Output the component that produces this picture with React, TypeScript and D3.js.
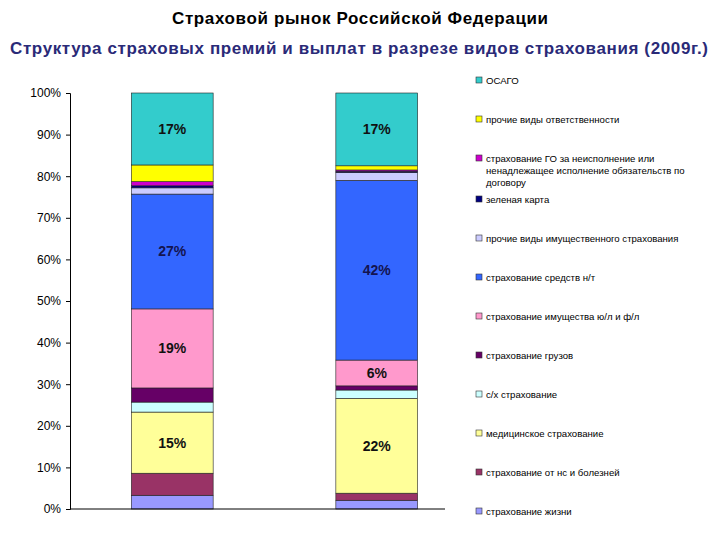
import React, { useEffect, useRef } from 'react';
import * as d3 from 'd3';

// two columns: premiums and payouts
const categories = ['премии', 'выплаты'];

// series from bottom of the stack to the top
const seriesNames = [
    'страхование жизни',
    'страхование от нс и болезней',
    'медицинское страхование',
    'с/х страхование',
    'страхование грузов',
    'страхование имущества ю/л и ф/л',
    'страхование средств н/т',
    'прочие виды имущественного страхования',
    'зеленая карта',
    'страхование ГО за неисполнение или ненадлежащее исполнение обязательств по договору',
    'прочие виды ответственности',
    'ОСАГО',
];

const seriesValues = [
    [3.3, 2.1],
    [5.3, 1.7],
    [14.7, 22.8],
    [2.4, 2.0],
    [3.4, 1.0],
    [19.0, 6.2],
    [27.6, 43.2],
    [1.5, 1.9],
    [0.5, 0.3],
    [1.0, 0.3],
    [4.0, 1.0],
    [17.3, 17.5],
];

const seriesLabels = [
    [null, null],
    [null, null],
    ['15%', '22%'],
    [null, null],
    [null, null],
    ['19%', '6%'],
    ['27%', '42%'],
    [null, null],
    [null, null],
    [null, null],
    [null, null],
    ['17%', '17%'],
];

const colors = [
    '#9999ff', '#993366', '#ffff99', '#ccffff', '#660066', '#ff99cc',
    '#3366ff', '#ccccff', '#000080', '#cc00cc', '#ffff00', '#33cccc',
];

const legendLines = [
    ['ОСАГО'],
    ['прочие виды ответственности'],
    ['страхование ГО за неисполнение или', 'ненадлежащее исполнение обязательств по', 'договору'],
    ['зеленая карта'],
    ['прочие виды имущественного страхования'],
    ['страхование средств н/т'],
    ['страхование имущества ю/л и ф/л'],
    ['страхование грузов'],
    ['с/х страхование'],
    ['медицинское страхование'],
    ['страхование от нс и болезней'],
    ['страхование жизни'],
];

const yTicks = [0, 10, 20, 30, 40, 50, 60, 70, 80, 90, 100];

const width = 720;
const height = 540;
const margin = { top: 93, bottom: 31, left: 70, right: 241 };
const font = 'Arial, "Liberation Sans", sans-serif';

const App = () => {
    const axisRef = useRef<SVGGElement>(null);

    const x = d3.scaleBand()
        .domain(categories)
        .range([margin.left, width - margin.right])
        .paddingInner(0.6)
        .paddingOuter(0.3);

    const y = d3.scaleLinear()
        .domain([0, 100])
        .range([height - margin.bottom, margin.top]);

    const stacked = categories.map((c, ci) => {
        let acc = 0;
        return seriesValues.map((vals, si) => {
            const y0 = acc;
            acc += vals[ci];
            return { c, si, y0, y1: acc, label: seriesLabels[si][ci] };
        });
    });

    useEffect(() => {
        const g = d3.select(axisRef.current);
        g.selectAll('*').remove();
        g.call(d3.axisLeft(y).tickValues(yTicks).tickFormat(d => d + '%').tickSizeOuter(0).tickSize(4));
        g.selectAll('text').attr('font-family', font).attr('font-size', 12).attr('fill', '#000').attr('dx', -2);
        g.selectAll('line, path').attr('stroke', '#000');
    }, []);

    let ly = 83;
    const legendItems = legendLines.map((lines, i) => {
        const item = { lines, y: ly, color: colors[colors.length - 1 - i] };
        ly += lines.length > 1 ? 41 : 39;
        return item;
    });

    return (
        <svg width={width} height={height} style={{ position: 'absolute', left: 0, top: 0, background: '#fff' }}>
            <text x={360} y={24} textAnchor="middle" fontFamily={font} fontSize={17} fontWeight="bold" fill="#000"
                textLength={376} lengthAdjust="spacing">
                Страховой рынок Российской Федерации
            </text>
            <text x={359} y={54} textAnchor="middle" fontFamily={font} fontSize={17} fontWeight="bold" fill="#2a2a78"
                textLength={698} lengthAdjust="spacing">
                Структура страховых премий и выплат в разрезе видов страхования (2009г.)
            </text>

            {stacked.map(col => col.map(s => (
                <rect key={s.c + s.si}
                    x={x(s.c)} width={x.bandwidth()}
                    y={y(s.y1)} height={y(s.y0) - y(s.y1)}
                    fill={colors[s.si]} stroke="#222" strokeWidth={0.6} />
            )))}

            {stacked.map(col => col.filter(s => s.label).map(s => (
                <text key={'l' + s.c + s.si}
                    x={(x(s.c) as number) + x.bandwidth() / 2}
                    y={(y(s.y0) + y(s.y1)) / 2 + 5}
                    textAnchor="middle" fontFamily={font} fontSize={14} fontWeight="bold"
                    fill={s.si === 6 ? '#141450' : '#111'}>{s.label}</text>
            )))}

            <g ref={axisRef} transform={`translate(${margin.left},0)`} />
            <line x1={margin.left} x2={445} y1={y(0)} y2={y(0)} stroke="#000" />

            {legendItems.map((it, i) => (
                <g key={i}>
                    <rect x={476} y={it.y - 6} width={6} height={6} fill={it.color} stroke="#333" strokeWidth={0.6} />
                    {it.lines.map((t, k) => (
                        <text key={k} x={486} y={it.y + 1 + k * 12} fontFamily={font} fontSize={9.6} fill="#000">{t}</text>
                    ))}
                </g>
            ))}
        </svg>
    );
};

export default App;
